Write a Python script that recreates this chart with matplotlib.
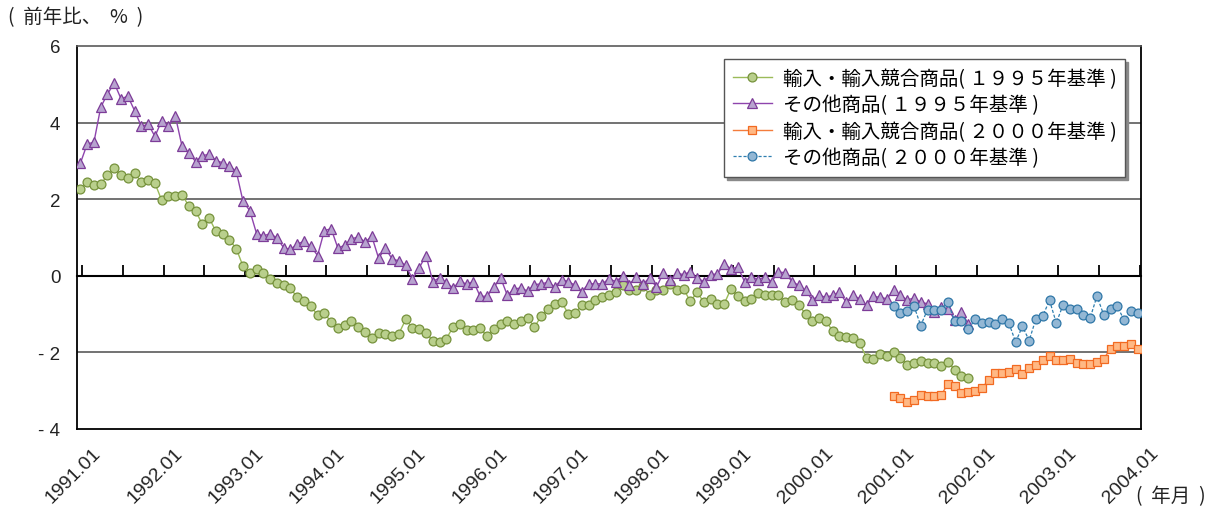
import numpy as np
import matplotlib
matplotlib.use('Agg')
import matplotlib.pyplot as plt
import matplotlib.transforms as mtransforms

# Monthly year-on-year change (%), 1991.01 .. 2004.01
months = [f'{1991 + i // 12}.{i % 12 + 1:02d}' for i in range(157)]

import_1995 = [
    2.26, 2.44, 2.36, 2.40, 2.62, 2.81, 2.62, 2.55, 2.69, 2.44, 2.50, 2.42,
    1.97, 2.08, 2.08, 2.12, 1.82, 1.70, 1.34, 1.51, 1.16, 1.08, 0.94, 0.71,
    0.25, 0.08, 0.17, 0.08, -0.09, -0.18, -0.25, -0.33, -0.56, -0.67, -0.79, -1.03,
    -0.97, -1.21, -1.37, -1.29, -1.17, -1.34, -1.46, -1.63, -1.49, -1.51, -1.57, -1.51,
    -1.14, -1.36, -1.38, -1.49, -1.69, -1.73, -1.64, -1.34, -1.25, -1.41, -1.41, -1.37,
    -1.58, -1.38, -1.25, -1.19, -1.25, -1.19, -1.10, -1.34, -1.05, -0.86, -0.73, -0.69,
    -0.99, -0.97, -0.77, -0.77, -0.62, -0.56, -0.51, -0.43, -0.25, -0.36, -0.37, -0.27,
    -0.49, -0.38, -0.38, -0.21, -0.38, -0.34, -0.67, -0.43, -0.69, -0.60, -0.73, -0.73,
    -0.34, -0.53, -0.67, -0.60, -0.44, -0.51, -0.49, -0.50, -0.69, -0.62, -0.77, -0.99,
    -1.17, -1.10, -1.19, -1.43, -1.56, -1.60, -1.62, -1.76, -2.14, -2.18, -2.05, -2.10,
    -1.99, -2.14, -2.32, -2.28, -2.23, -2.27, -2.27, -2.36, -2.25, -2.45, -2.62, -2.66,
]

other_1995 = [
    2.94, 3.44, 3.49, 4.40, 4.75, 5.03, 4.62, 4.69, 4.31, 3.90, 3.96, 3.64,
    4.05, 3.90, 4.18, 3.38, 3.21, 2.98, 3.14, 3.17, 3.01, 2.95, 2.86, 2.73,
    1.94, 1.70, 1.10, 1.04, 1.10, 0.99, 0.73, 0.69, 0.83, 0.90, 0.77, 0.53,
    1.18, 1.23, 0.72, 0.80, 0.96, 1.02, 0.88, 1.03, 0.46, 0.72, 0.44, 0.39,
    0.27, -0.08, 0.21, 0.53, -0.15, -0.05, -0.18, -0.32, -0.14, -0.22, -0.15, -0.54,
    -0.53, -0.30, -0.05, -0.51, -0.34, -0.32, -0.40, -0.23, -0.21, -0.17, -0.29, -0.10,
    -0.15, -0.25, -0.41, -0.21, -0.21, -0.21, -0.08, -0.15, -0.01, -0.23, -0.03, -0.22,
    -0.05, -0.30, 0.07, -0.12, 0.07, 0.03, 0.11, -0.06, -0.15, 0.03, 0.05, 0.31,
    0.18, 0.23, -0.15, -0.02, -0.10, -0.03, -0.15, 0.10, 0.08, -0.15, -0.25, -0.38,
    -0.63, -0.51, -0.56, -0.51, -0.43, -0.69, -0.51, -0.60, -0.77, -0.54, -0.56, -0.60,
    -0.38, -0.51, -0.63, -0.58, -0.69, -0.73, -0.95, -0.82, -0.86, -1.15, -0.95, -1.25,
]

# 2000-base series start at 2001.01
import_2000 = [
    -3.14, -3.19, -3.30, -3.23, -3.10, -3.14, -3.14, -3.12, -2.82, -2.88, -3.06, -3.03,
    -3.01, -2.93, -2.73, -2.53, -2.53, -2.50, -2.44, -2.56, -2.41, -2.34, -2.19, -2.10,
    -2.21, -2.19, -2.17, -2.28, -2.30, -2.30, -2.25, -2.17, -1.90, -1.83, -1.82, -1.77,
    -1.90,
]

other_2000 = [
    -0.80, -0.97, -0.93, -0.79, -1.30, -0.88, -0.88, -0.88, -0.69, -1.17, -1.17, -1.40,
    -1.14, -1.23, -1.21, -1.27, -1.12, -1.23, -1.73, -1.32, -1.69, -1.12, -1.05, -0.64,
    -1.23, -0.76, -0.86, -0.86, -1.02, -1.10, -0.53, -1.02, -0.86, -0.80, -1.15, -0.92,
    -0.97,
]

labels = [
    '輸入・輸入競合商品( １９９５年基準 )',
    'その他商品( １９９５年基準 )',
    '輸入・輸入競合商品( ２０００年基準 )',
    'その他商品( ２０００年基準 )',
]

CJK = ['Noto Sans CJK JP', 'DejaVu Sans']
LAT = 'Liberation Sans'

x_all = np.arange(len(months))
x_1995 = x_all[:len(import_1995)]
start_2000 = months.index('2001.01')
x_2000 = x_all[start_2000:start_2000 + len(import_2000)]

fig = plt.figure(figsize=(12.09, 5.10), dpi=100)
ax = fig.add_axes([77 / 1209, 1 - 430 / 510, 1064 / 1209, 383 / 510])

ax.plot(x_1995, import_1995, color='#9BBB59', lw=1.0, marker='o', ms=6.4,
        mfc='#B9CF8C', mec='#76923C', mew=0.9, label=labels[0], zorder=3)
ax.plot(x_1995, other_1995, color='#8E44AD', lw=1.0, marker='^', ms=7.0,
        mfc='#B7A3CF', mec='#7D3C98', mew=0.9, label=labels[1], zorder=3)
ax.plot(x_2000, import_2000, color='#F47C3C', lw=1.0, marker='s', ms=6.4,
        mfc='#FFB884', mec='#F26A22', mew=0.9, label=labels[2], zorder=4)
ax.plot(x_2000, other_2000, color='#2E7FB0', lw=0.9, ls=(0, (2.5, 1.5)), marker='o', ms=6.4,
        mfc='#93B7D4', mec='#2F77A8', mew=0.9, label=labels[3], zorder=4)

ax.set_xlim(-0.5, len(months) - 0.5)
ax.set_ylim(-4, 6)

# y axis
yticks = [-4, -2, 0, 2, 4, 6]
ax.set_yticks(yticks)
ax.set_yticklabels([f'- {abs(v)}' if v < 0 else str(v) for v in yticks],
                   fontfamily=LAT, fontsize=13.5, color='#222222')
ax.tick_params(axis='y', length=0, pad=12)
for v in (-2, 2, 4):
    ax.axhline(v, color='#5a5a5a', lw=1.2, zorder=1)

# x axis labels every January
year_idx = [i for i, m in enumerate(months) if m.endswith('.01')]
ax.set_xticks(year_idx)
ax.set_xticklabels([months[i] for i in year_idx], rotation=45, ha='center',
                   fontfamily=LAT, fontsize=14, color='#222222')
ax.tick_params(axis='x', length=0, pad=11)
shift = mtransforms.ScaledTranslation(-0.07, 0, fig.dpi_scale_trans)
for t in ax.get_xticklabels():
    t.set_transform(t.get_transform() + shift)

# category axis drawn along y = 0 with inward ticks every 6 months
zero_axis = ax.secondary_xaxis(0.4)
zero_axis.set_xticks(np.arange(0, len(months), 6) + 0.3)
zero_axis.tick_params(direction='in', length=8, width=1.3, color='black', labelbottom=False)
zero_axis.spines['bottom'].set_linewidth(1.5)
zero_axis.spines['bottom'].set_color('black')

for side in ('left', 'right', 'bottom'):
    ax.spines[side].set_color('black')
    ax.spines[side].set_linewidth(1.3)
ax.spines['top'].set_color('#5a5a5a')
ax.spines['top'].set_linewidth(1.2)

leg = ax.legend(loc='upper right', bbox_to_anchor=(0.985, 0.966), prop={'family': CJK, 'size': 14},
                frameon=True, fancybox=False, shadow={'color': '#8a8a8a', 'alpha': 1.0},
                handlelength=2.0, handletextpad=0.55, labelspacing=0.28, borderpad=0.45,
                borderaxespad=0)
leg.get_frame().set_edgecolor('#555555')
leg.get_frame().set_linewidth(1.0)

fig.text(8 / 1209, 1 - 18 / 510, '(  前年比、  %  )', family=CJK, fontsize=14, va='center', ha='left',
         color='#222222')
fig.text(1206 / 1209, 1 - 497 / 510, '(  年月  )', family=CJK, fontsize=14, va='center', ha='right',
         color='#222222')

fig.savefig('out.png', dpi=100)
